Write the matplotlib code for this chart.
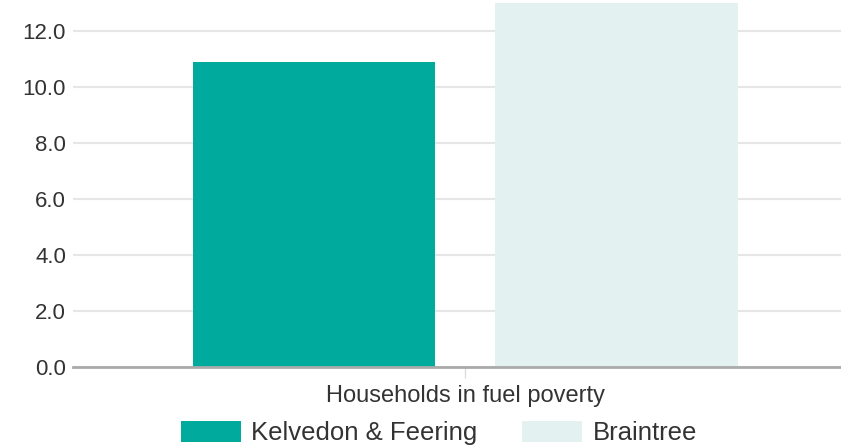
import matplotlib
matplotlib.use("Agg")
import matplotlib.pyplot as plt
from matplotlib.patches import Patch

categories = ["Households in fuel poverty"]
series_names = ["Kelvedon & Feering", "Braintree"]
kelvedon = [10.9]
braintree = [13.0]
yticks = [0.0, 2.0, 4.0, 6.0, 8.0, 10.0, 12.0]
colors = ["#00AA9D", "#E3F2F1"]

plt.rcParams['font.family'] = ['Liberation Sans', 'DejaVu Sans']

fig = plt.figure(figsize=(8.41, 4.45), dpi=100)
ax = fig.add_axes([73/841, 78/445, 768/841, 367/445])

x = list(range(len(categories)))
w = 0.311
off = 0.194
ax.bar([i - off for i in x], kelvedon, width=w, color=colors[0], zorder=3)
ax.bar([i + off for i in x], braintree, width=w, color=colors[1], zorder=3)

ax.set_xlim(-0.503, 0.4816)
ax.set_ylim(0, 13.1)
ax.set_yticks(yticks)
ax.set_yticklabels([f"{v:.1f}" for v in yticks])
ax.set_xticks(x)
ax.set_xticklabels(categories)
ax.grid(axis='y', color='#e6e6e6', linewidth=1.5, zorder=0)
for s in ['top', 'right', 'left']:
    ax.spines[s].set_visible(False)
ax.spines['bottom'].set_color('#aaaaaa')
ax.spines['bottom'].set_linewidth(2)
ax.spines['bottom'].set_zorder(4)
ax.tick_params(axis='y', length=0, pad=5, labelsize=16, labelcolor='#333333')
ax.tick_params(axis='x', length=8, width=1, color='#dddddd', pad=5, labelsize=17, labelcolor='#333333')

handles = [Patch(facecolor=c, edgecolor='none') for c in colors]
fig.legend(handles, series_names, loc='center', bbox_to_anchor=(439/841, 1 - 433/445),
           ncol=2, frameon=False, fontsize=18.5, handlelength=2.33, handleheight=0.86,
           handletextpad=0.4, columnspacing=1.75, labelcolor='#333333',
           borderpad=0, borderaxespad=0)

fig.savefig("out.png", dpi=100)
